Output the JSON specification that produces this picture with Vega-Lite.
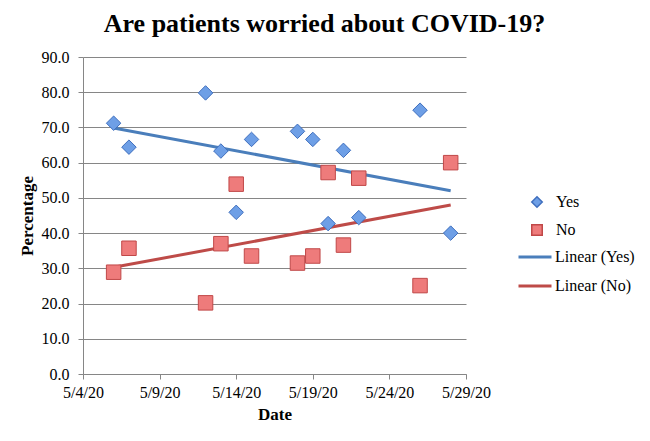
{
  "$schema": "https://vega.github.io/schema/vega-lite/v6.json",
  "autosize": {"type": "none"},
  "width": 383,
  "height": 317,
  "padding": {"left": 83, "top": 57, "right": 184, "bottom": 67},
  "background": "white",
  "title": {
    "text": "Are patients worried about COVID-19?",
    "font": "Liberation Serif",
    "fontSize": 26,
    "fontWeight": "bold",
    "color": "black",
    "anchor": "middle",
    "dx": 50,
    "dy": 34,
    "baseline": "alphabetic",
    "offset": 25
  },
  "data": {
    "values": [
      {"date": "2020-05-06", "series": "Yes", "trend": "Linear (Yes)", "value": 71.2},
      {"date": "2020-05-07", "series": "Yes", "trend": "Linear (Yes)", "value": 64.4},
      {"date": "2020-05-12", "series": "Yes", "trend": "Linear (Yes)", "value": 79.8},
      {"date": "2020-05-13", "series": "Yes", "trend": "Linear (Yes)", "value": 63.3},
      {"date": "2020-05-14", "series": "Yes", "trend": "Linear (Yes)", "value": 45.9},
      {"date": "2020-05-15", "series": "Yes", "trend": "Linear (Yes)", "value": 66.6},
      {"date": "2020-05-18", "series": "Yes", "trend": "Linear (Yes)", "value": 68.9},
      {"date": "2020-05-19", "series": "Yes", "trend": "Linear (Yes)", "value": 66.6},
      {"date": "2020-05-20", "series": "Yes", "trend": "Linear (Yes)", "value": 42.7},
      {"date": "2020-05-21", "series": "Yes", "trend": "Linear (Yes)", "value": 63.5},
      {"date": "2020-05-22", "series": "Yes", "trend": "Linear (Yes)", "value": 44.4},
      {"date": "2020-05-26", "series": "Yes", "trend": "Linear (Yes)", "value": 74.9},
      {"date": "2020-05-28", "series": "Yes", "trend": "Linear (Yes)", "value": 40.0},
      {"date": "2020-05-06", "series": "No", "trend": "Linear (No)", "value": 28.9},
      {"date": "2020-05-07", "series": "No", "trend": "Linear (No)", "value": 35.7},
      {"date": "2020-05-12", "series": "No", "trend": "Linear (No)", "value": 20.2},
      {"date": "2020-05-13", "series": "No", "trend": "Linear (No)", "value": 37.0},
      {"date": "2020-05-14", "series": "No", "trend": "Linear (No)", "value": 53.9},
      {"date": "2020-05-15", "series": "No", "trend": "Linear (No)", "value": 33.5},
      {"date": "2020-05-18", "series": "No", "trend": "Linear (No)", "value": 31.5},
      {"date": "2020-05-19", "series": "No", "trend": "Linear (No)", "value": 33.5},
      {"date": "2020-05-20", "series": "No", "trend": "Linear (No)", "value": 57.2},
      {"date": "2020-05-21", "series": "No", "trend": "Linear (No)", "value": 36.6},
      {"date": "2020-05-22", "series": "No", "trend": "Linear (No)", "value": 55.6},
      {"date": "2020-05-26", "series": "No", "trend": "Linear (No)", "value": 25.1},
      {"date": "2020-05-28", "series": "No", "trend": "Linear (No)", "value": 60.0}
    ],
    "format": {"parse": {"date": "date"}}
  },
  "encoding": {
    "x": {
      "field": "date",
      "type": "temporal",
      "scale": {
        "type": "utc",
        "domain": [
          {"year": 2020, "month": 5, "date": 4, "utc": true},
          {"year": 2020, "month": 5, "date": 29, "utc": true}
        ],
        "nice": false
      },
      "axis": {
        "title": "Date",
        "format": "%-m/%-d/%y",
        "values": [
          {"year": 2020, "month": 5, "date": 4, "utc": true},
          {"year": 2020, "month": 5, "date": 9, "utc": true},
          {"year": 2020, "month": 5, "date": 14, "utc": true},
          {"year": 2020, "month": 5, "date": 19, "utc": true},
          {"year": 2020, "month": 5, "date": 24, "utc": true},
          {"year": 2020, "month": 5, "date": 29, "utc": true}
        ],
        "grid": false,
        "labelFlush": false,
        "labelOverlap": false,
        "labelFont": "Liberation Serif",
        "labelFontSize": 16,
        "labelPadding": 5,
        "titlePadding": 6
      }
    },
    "y": {
      "field": "value",
      "type": "quantitative",
      "scale": {"domain": [0, 90], "nice": false, "zero": true},
      "axis": {
        "title": "Percentage",
        "format": ".1f",
        "values": [0, 10, 20, 30, 40, 50, 60, 70, 80, 90],
        "grid": true,
        "labelFont": "Liberation Serif",
        "labelFontSize": 16,
        "labelPadding": 9,
        "titlePadding": 5
      }
    }
  },
  "layer": [
    {
      "transform": [
        {"regression": "value", "on": "date", "groupby": ["trend"]}
      ],
      "mark": {"type": "line", "strokeWidth": 3},
      "encoding": {
        "color": {
          "field": "trend",
          "type": "nominal",
          "scale": {"domain": ["Linear (Yes)", "Linear (No)"], "range": ["#4A7EBB", "#BE4B48"]},
          "legend": {
            "title": null,
            "orient": "none",
            "legendX": 434,
            "legendY": 182,
            "symbolType": "stroke",
            "symbolStrokeWidth": 3,
            "symbolSize": 1089,
            "labelFont": "Liberation Serif",
            "labelFontSize": 16,
            "labelOffset": 2,
            "rowPadding": 3,
            "padding": 0
          }
        }
      }
    },
    {
      "mark": {"type": "point", "filled": true, "size": 210, "strokeWidth": 1, "opacity": 1},
      "encoding": {
        "shape": {
          "field": "series",
          "type": "nominal",
          "scale": {"domain": ["Yes", "No"], "range": ["diamond", "square"]},
          "legend": {
            "title": null,
            "orient": "none",
            "legendX": 446,
            "legendY": 137,
            "symbolSize": 110,
            "labelFont": "Liberation Serif",
            "labelFontSize": 16,
            "labelOffset": 11,
            "rowPadding": 10,
            "padding": 0
          }
        },
        "fill": {
          "field": "series",
          "type": "nominal",
          "scale": {"domain": ["Yes", "No"], "range": ["#6E9FE6", "#EE7B7B"]},
          "legend": {
            "title": null,
            "orient": "none",
            "legendX": 446,
            "legendY": 137,
            "symbolSize": 110,
            "labelFont": "Liberation Serif",
            "labelFontSize": 16,
            "labelOffset": 11,
            "rowPadding": 10,
            "padding": 0
          }
        },
        "stroke": {
          "field": "series",
          "type": "nominal",
          "scale": {"domain": ["Yes", "No"], "range": ["#3F6FBE", "#C04848"]},
          "legend": {
            "title": null,
            "orient": "none",
            "legendX": 446,
            "legendY": 137,
            "symbolSize": 110,
            "labelFont": "Liberation Serif",
            "labelFontSize": 16,
            "labelOffset": 11,
            "rowPadding": 10,
            "padding": 0
          }
        }
      }
    }
  ],
  "config": {
    "view": {"stroke": null},
    "axis": {
      "domainColor": "#868686",
      "domainWidth": 1,
      "tickColor": "#868686",
      "tickSize": 5,
      "gridColor": "#868686",
      "gridWidth": 1,
      "labelColor": "black",
      "titleFont": "Liberation Serif",
      "titleFontSize": 17,
      "titleFontWeight": "bold",
      "titleColor": "black"
    },
    "legend": {
      "labelColor": "black",
      "symbolOpacity": 1
    }
  }
}
